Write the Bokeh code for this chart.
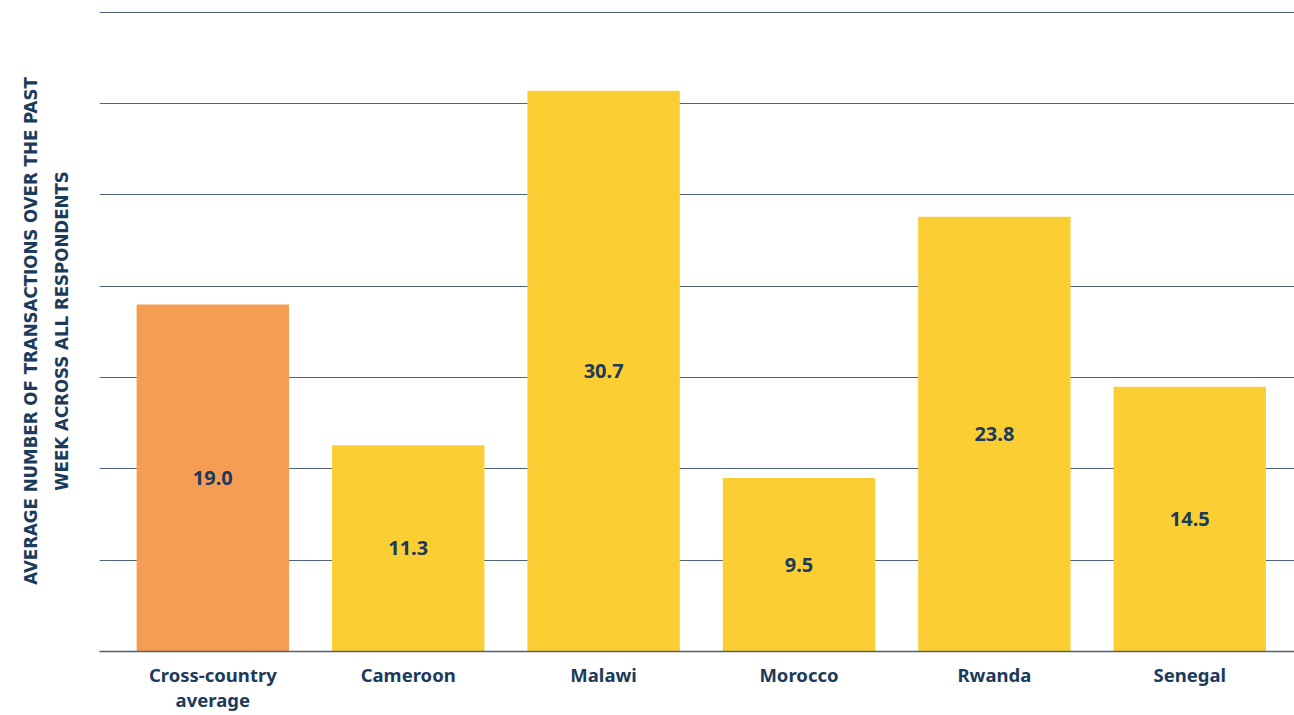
from bokeh.plotting import figure
from bokeh.models import ColumnDataSource, Range1d, SingleIntervalTicker, FixedTicker
from bokeh.core.properties import value
from bokeh.embed import file_html
from bokeh.resources import INLINE

categories = ["Cross-country\naverage", "Cameroon", "Malawi", "Morocco", "Rwanda", "Senegal"]
values = [19.0, 11.3, 30.7, 9.5, 23.8, 14.5]
labels = ["19.0", "11.3", "30.7", "9.5", "23.8", "14.5"]
colors = ["#F59E53", "#FBCE33", "#FBCE33", "#FBCE33", "#FBCE33", "#FBCE33"]

NAVY = "#1C3A5A"
GRID = "#4F6275"

xs = list(range(len(categories)))
src = ColumnDataSource(dict(
    x=xs, val=values, half=[v / 2 for v in values], lab=labels, col=colors))

p = figure(x_range=Range1d(-0.58, 5.536), y_range=Range1d(0, 35.1),
           width=1294, height=715, output_backend="svg", toolbar_location=None,
           min_border_left=99, min_border_right=0, min_border_top=10, min_border_bottom=0)
p.outline_line_color = None
p.background_fill_color = "white"

p.vbar(x="x", top="val", width=0.78, color="col", line_color=None, source=src)
p.text(x="x", y="half", text="lab", source=src, text_align="center", text_baseline="middle",
       text_font=value("Noto Sans"), text_font_style="bold", text_font_size="20px", text_color=NAVY)

p.ygrid.ticker = SingleIntervalTicker(interval=5)
p.ygrid.grid_line_color = GRID
p.ygrid.grid_line_width = 1
p.xgrid.grid_line_color = None

p.xaxis.ticker = FixedTicker(ticks=xs)
p.xaxis.major_label_overrides = {x: c for x, c in zip(xs, categories)}
p.xaxis.axis_line_color = GRID
p.xaxis.axis_line_width = 1.5
p.xaxis.major_tick_line_color = None
p.xaxis.minor_tick_line_color = None
p.xaxis.major_tick_out = 0
p.xaxis.major_tick_in = 0
p.xaxis.major_label_text_font = "Noto Sans"
p.xaxis.major_label_text_font_style = "bold"
p.xaxis.major_label_text_font_size = "18.5px"
p.xaxis.major_label_text_line_height = 1.03
p.xaxis.major_label_text_color = NAVY
p.xaxis.major_label_standoff = 10

p.yaxis.ticker = FixedTicker(ticks=[])
p.yaxis.major_tick_line_color = None
p.yaxis.minor_tick_line_color = None
p.yaxis.major_tick_out = 0
p.yaxis.axis_line_color = None
p.yaxis.axis_label = "AVERAGE NUMBER OF TRANSACTIONS OVER THE PAST\nWEEK ACROSS ALL RESPONDENTS"
p.yaxis.axis_label_text_font = "DejaVu Sans Condensed"
p.yaxis.axis_label_text_font_style = "bold"
p.yaxis.axis_label_text_font_size = "18.5px"
p.yaxis.axis_label_text_line_height = 1.45
p.yaxis.axis_label_text_color = NAVY
p.yaxis.axis_label_standoff = 28

open("out.html", "w").write(file_html(p, INLINE))
